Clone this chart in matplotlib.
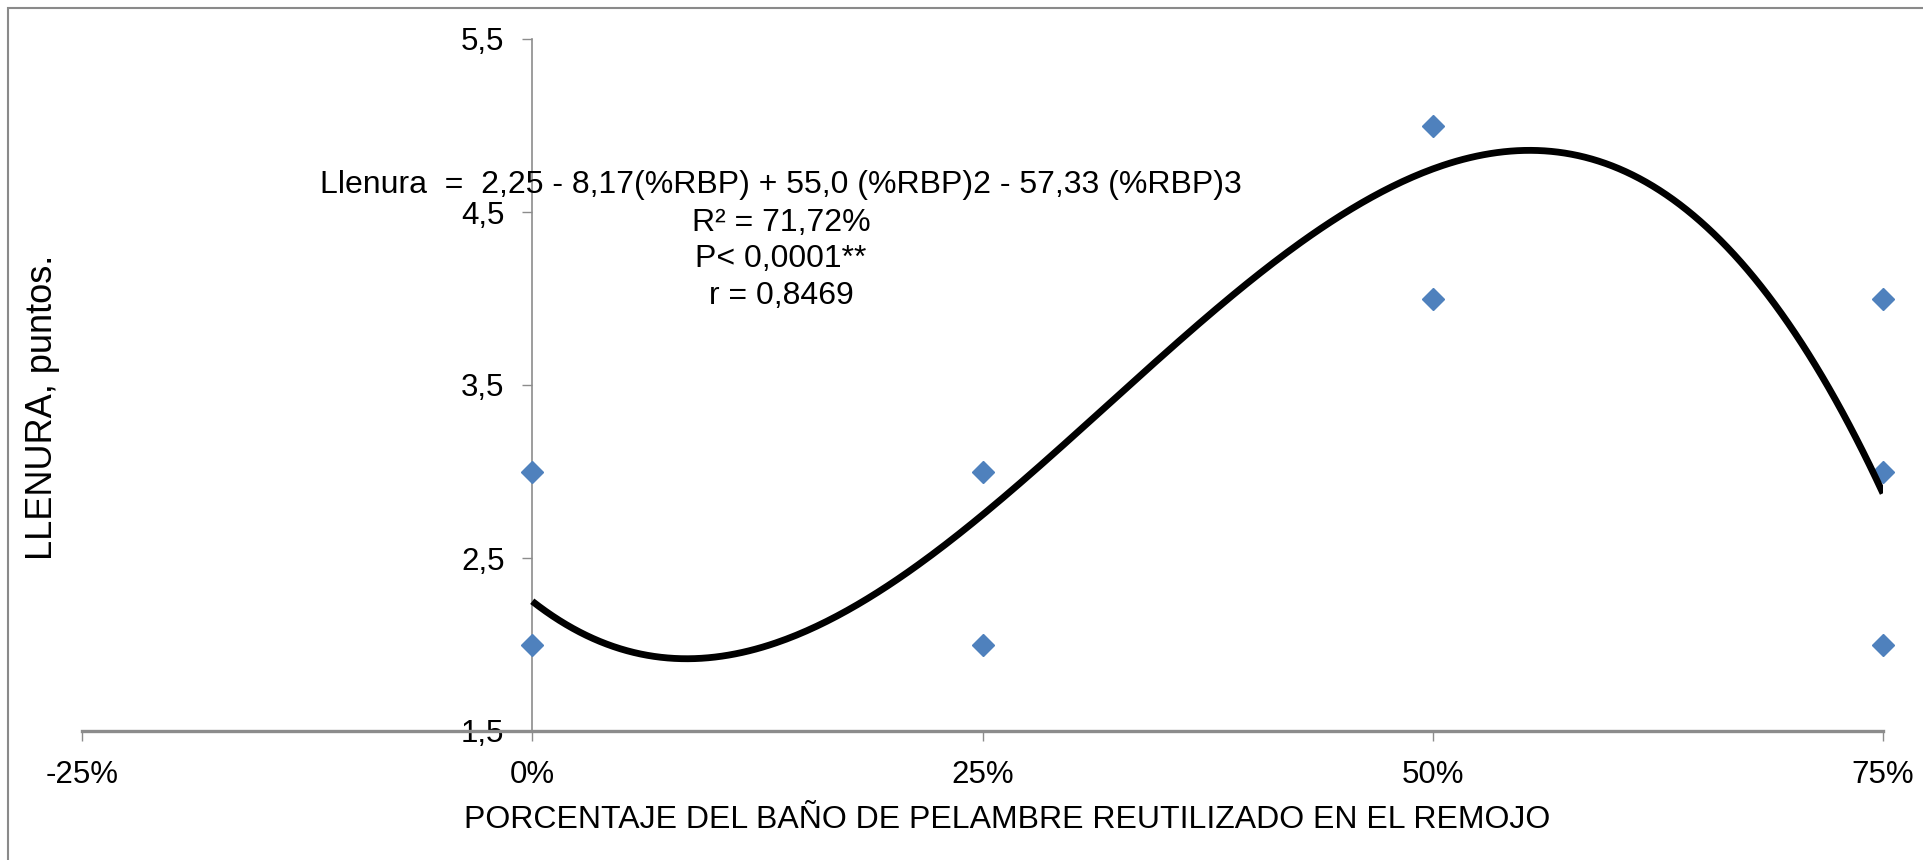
import numpy as np
import matplotlib
matplotlib.use("Agg")
import matplotlib.pyplot as plt
from matplotlib.patches import Rectangle

plt.rcParams['font.family'] = ['Liberation Sans', 'DejaVu Sans']

# Observed fullness scores at each reuse level of the liming bath
rbp_frac = [0.0, 0.0, 0.25, 0.25, 0.50, 0.50, 0.75, 0.75, 0.75]
llenura = [3, 2, 3, 2, 5, 4, 4, 3, 2]

# Cubic regression coefficients: intercept, x, x^2, x^3
coef = [2.25, -8.17, 55.0, -57.33]

x_ticks = [-0.25, 0.0, 0.25, 0.50, 0.75]
x_ticklabels = ['-25%', '0%', '25%', '50%', '75%']
y_ticks = [1.5, 2.5, 3.5, 4.5, 5.5]
y_ticklabels = ['1,5', '2,5', '3,5', '4,5', '5,5']

eq_lines = [
    "Llenura  =  2,25 - 8,17(%RBP) + 55,0 (%RBP)2 - 57,33 (%RBP)3",
    "R² = 71,72%",
    "P< 0,0001**",
    "r = 0,8469",
]

W, H = 1923, 860
fig = plt.figure(figsize=(W / 100, H / 100), dpi=100)
ax = fig.add_axes([82 / W, 1 - 731 / H, (1883 - 82) / W, (731 - 39) / H])
ax.set_xlim(-0.25, 0.75)
ax.set_ylim(1.5, 5.5)

axis_gray = '#8c8c8c'

# fitted cubic curve
xs = np.linspace(0.0, 0.75, 400)
ys = coef[0] + coef[1] * xs + coef[2] * xs ** 2 + coef[3] * xs ** 3
ax.plot(xs, ys, color='black', lw=4.9, solid_capstyle='butt', zorder=4)

# observations
ax.plot(rbp_frac, llenura, linestyle='none', marker='D', ms=11,
        color='#4F81BD', mec='#4F81BD', zorder=3, clip_on=False)

# axes styling
for s in ['top', 'right']:
    ax.spines[s].set_visible(False)
ax.spines['left'].set_position(('data', 0))
ax.spines['left'].set_color(axis_gray)
ax.spines['left'].set_linewidth(1.2)
ax.spines['bottom'].set_color(axis_gray)
ax.spines['bottom'].set_linewidth(2.4)

ax.set_xticks(x_ticks)
ax.set_xticklabels(x_ticklabels)
ax.set_yticks(y_ticks)
ax.set_yticklabels(y_ticklabels)
ax.tick_params(axis='x', direction='out', length=7.2, width=1.0,
               color=axis_gray, labelsize=22.5, pad=13.5)
ax.tick_params(axis='y', direction='out', length=7.0, width=1.0,
               color=axis_gray, labelsize=22.5, pad=13)

ax.set_xlabel('PORCENTAJE DEL BAÑO DE PELAMBRE REUTILIZADO EN EL REMOJO',
              fontsize=23)
ax.xaxis.set_label_coords((1007 - 82) / 1801, (731 - 828) / 692)
ax.xaxis.label.set_va('baseline')

ax.set_ylabel('LLENURA, puntos.', fontsize=26)
ax.yaxis.set_label_coords((43 - 82) / 1801, (731 - 407) / 692)
ax.yaxis.label.set_va('center')

# regression statistics block
baselines = [193, 231, 267, 304]
for line, yb in zip(eq_lines, baselines):
    fig.text(781 / W, 1 - yb / H, line, ha='center', va='baseline',
             fontsize=23)

# chart-area frame
fig.patches.append(Rectangle((8 / W, -0.1), 2.0, 1.1 - 8 / H,
                             transform=fig.transFigure, fill=False,
                             edgecolor='#8a8a8a', lw=1.5))

fig.savefig('out.png', dpi=100, facecolor='white')
